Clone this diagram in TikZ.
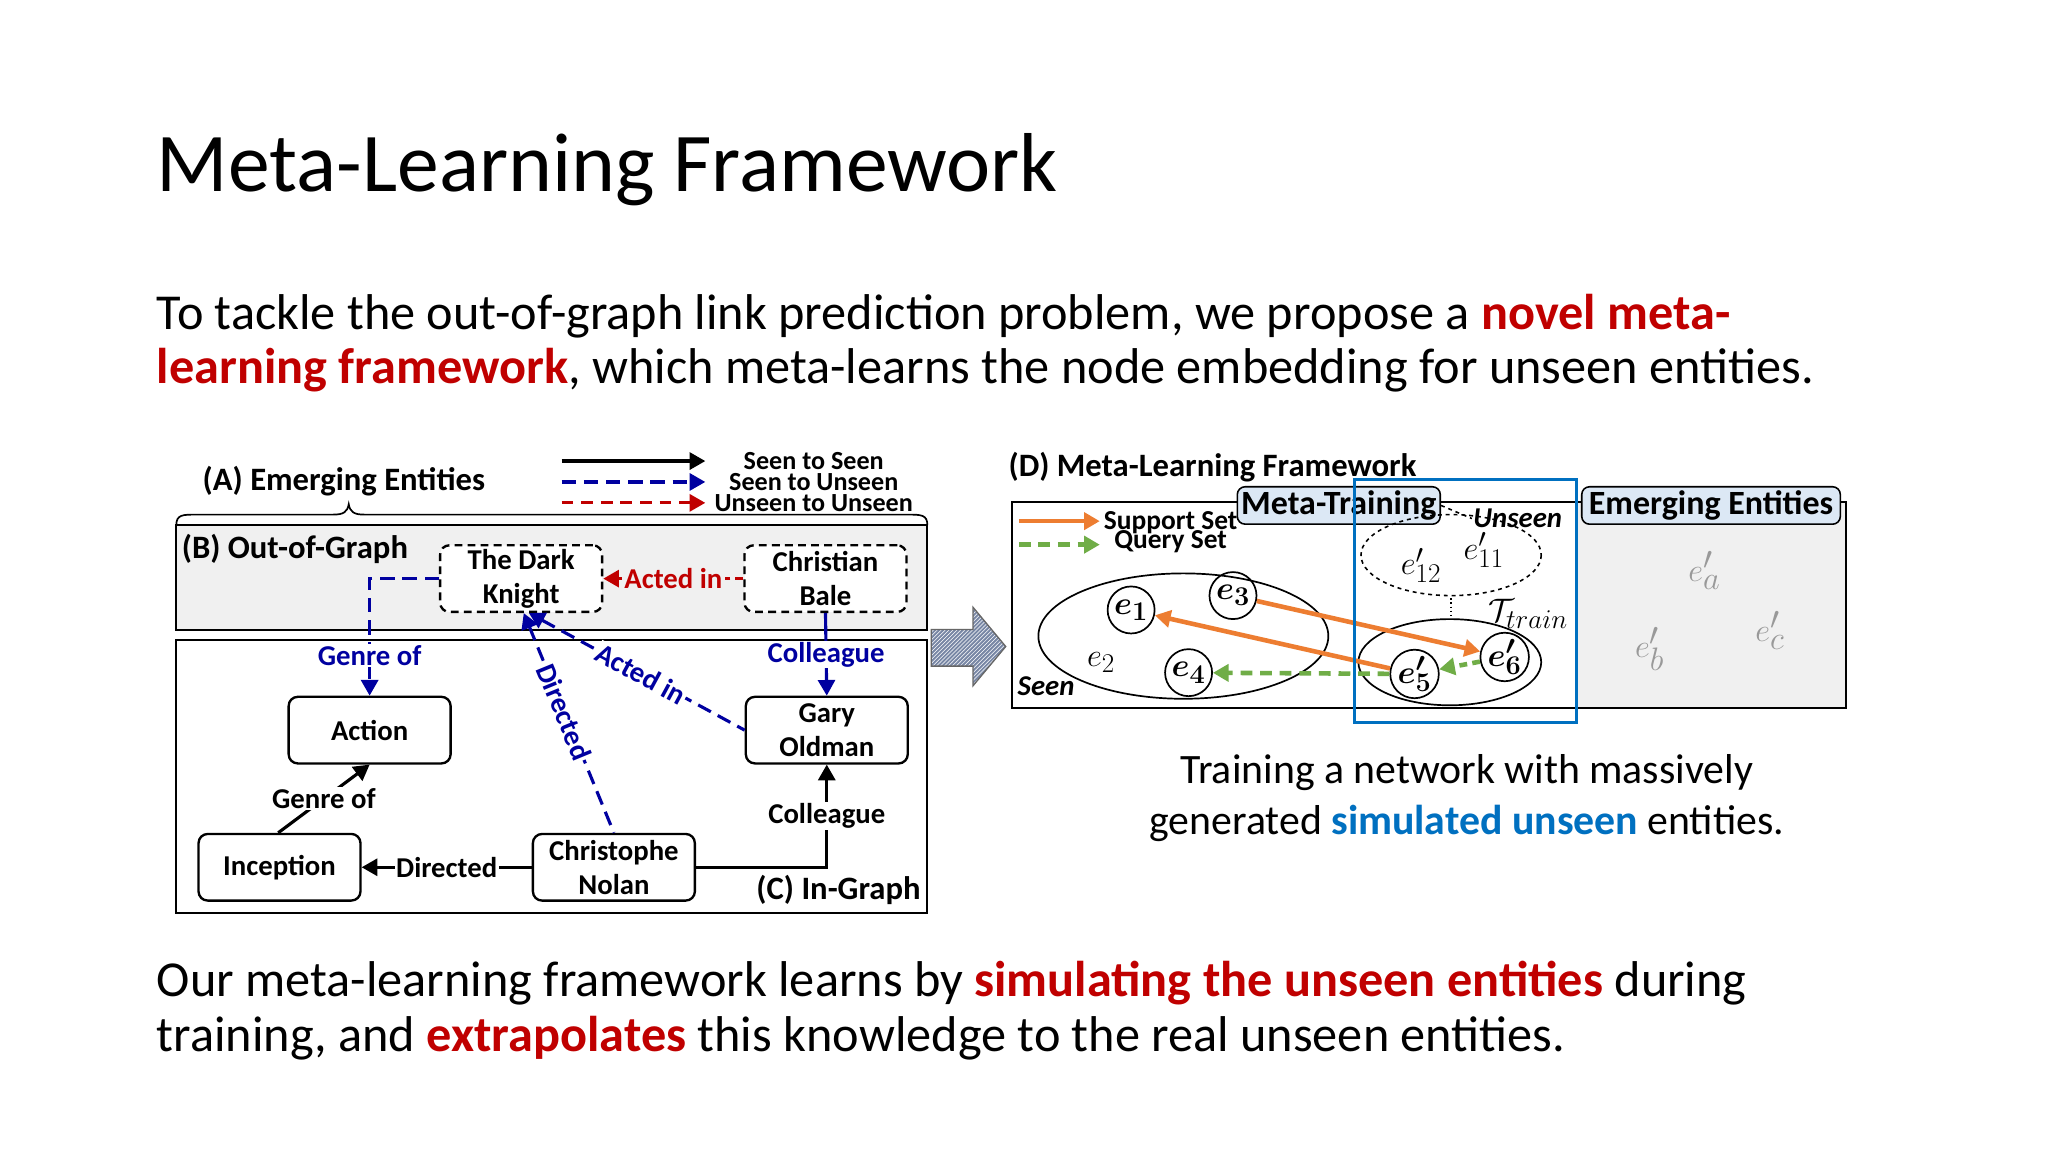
\documentclass[tikz,border=0pt]{standalone}
\usepackage{fontspec}
\usepackage{bm}
\setmainfont{Carlito}
\usetikzlibrary{arrows.meta,patterns}
\definecolor{myred}{RGB}{192,0,0}
\definecolor{dblue}{RGB}{0,0,160}
\definecolor{hblue}{RGB}{0,112,192}
\definecolor{orng}{RGB}{237,125,49}
\definecolor{grn}{RGB}{112,173,71}
\definecolor{lblue}{RGB}{220,232,245}
\begin{document}
\begin{tikzpicture}[x=1pt,y=-1pt,
  big/.style={font=\fontsize{38.5}{46}\selectfont, anchor=base west, inner sep=0},
  lab/.style={font=\bfseries\fontsize{25}{30}\selectfont, inner sep=1pt},
  ent/.style={draw, line width=1.8pt, rounded corners=7pt, minimum width=124pt, minimum height=51pt, align=center, font=\bfseries\fontsize{22}{26}\selectfont, inner sep=0},
  unent/.style={ent, dashed, dash pattern=on 6pt off 4pt},
  bl/.style={dblue, line width=2.4pt, dash pattern=on 11pt off 6pt},
  blt/.style={text=dblue, fill=white, font=\bfseries\fontsize{22}{26}\selectfont, inner sep=1pt},
  blk/.style={black, line width=2.4pt},
  tip/.style={-{Triangle[length=12pt,width=13pt]}},
  rtip/.style={{Triangle[length=12pt,width=13pt]}-},
  elab/.style={font=\bfseries\fontsize{22}{26}\selectfont, inner sep=1pt, fill=white},
  cir/.style={circle, draw, line width=1.3pt, minimum size=36pt, inner sep=0, font=\fontsize{31}{34}\selectfont},
  tag/.style={draw, rounded corners=6pt, fill=lblue, line width=1.2pt, minimum height=28pt, font=\bfseries\fontsize{26}{30}\selectfont, inner sep=3pt}
]
\useasboundingbox (0,0) rectangle (1568,882);
\fill[white] (0,0) rectangle (1568,882);

% title and text
\node[anchor=base west, inner sep=0, font=\fontsize{64}{76}\selectfont] (title) at (120,147) {Meta-Learning Framework};
\node[big] (t1) at (120,252) {To tackle the out-of-graph link prediction problem, we propose a \textcolor{myred}{\bfseries novel meta-}};
\node[big] (t2) at (120,294) {\textcolor{myred}{\bfseries learning framework}, which meta-learns the node embedding for unseen entities.};
\node[big] (b1) at (120,763) {Our meta-learning framework learns by \textcolor{myred}{\bfseries simulating the unseen entities} during};
\node[big] (b2) at (120,805) {training, and \textcolor{myred}{\bfseries extrapolates} this knowledge to the real unseen entities.};

% ---------- left panel ----------
\node[lab, anchor=west] (A) at (154,368) {(A) Emerging Entities};
\coordinate (l1a) at (430,353); \coordinate (l1b) at (540,353);
\coordinate (l2a) at (430,369); \coordinate (l2b) at (540,369);
\coordinate (l3a) at (430,385); \coordinate (l3b) at (540,385);
\draw[blk, tip] (l1a) -- (l1b);
\draw[bl, tip] (l2a) -- (l2b);
\draw[myred, line width=2.4pt, dash pattern=on 9pt off 6pt, tip] (l3a) -- (l3b);
\node[font=\bfseries\fontsize{20}{22}\selectfont, inner sep=0] (lg1) at (623,353) {Seen to Seen};
\node[font=\bfseries\fontsize{20}{22}\selectfont, inner sep=0] (lg2) at (623,369) {Seen to Unseen};
\node[font=\bfseries\fontsize{20}{22}\selectfont, inner sep=0] (lg3) at (623,385) {Unseen to Unseen};
\draw[line width=1.3pt] (135,402) .. controls (135,394) and (140,394) .. (150,394) -- (255,394) .. controls (263,394) and (266,392) .. (267,386)
  .. controls (268,392) and (271,394) .. (279,394) -- (695,394) .. controls (705,394) and (710,394) .. (710,402);

\draw[line width=1.6pt, fill=black!6] (135,402) rectangle (710,482);
\draw[line width=1.6pt] (135,490) rectangle (710,699);
\node[lab, anchor=west] (B) at (138,420) {(B) Out-of-Graph};
\node[lab, anchor=east] (C) at (706,681) {(C) In-Graph};

\node[unent, fill=white] (tdk) at (399,443) {The Dark\\Knight};
\node[unent, fill=white] (cb) at (632,443) {Christian\\Bale};
\node[ent] (act) at (283,559) {Action};
\node[ent] (go) at (633,559) {Gary\\Oldman};
\node[ent] (inc) at (214,664) {Inception};
\node[ent] (cn) at (470,664) {Christophe\\Nolan};

\draw[myred, line width=2.4pt, dash pattern=on 6pt off 4pt, tip] (cb.west) -- node[fill=black!6, text=myred, font=\bfseries\fontsize{22}{26}\selectfont, inner sep=2pt]{Acted in} (tdk.east);
\draw[bl, tip] (tdk.west) -| node[pos=0.83, blt]{Genre of} (act.north);
\draw[dblue, line width=2.4pt, tip] (cb.south) -- node[blt]{Colleague} (go.north);
\draw[bl, rtip] ([xshift=6pt]tdk.south) -- node[blt, sloped, pos=0.52]{Acted in} (go.west);
\draw[bl, rtip] ([xshift=2pt]tdk.south) -- node[blt, sloped, pos=0.45]{Directed} (cn.north);
\draw[blk, tip] ([xshift=-1pt]inc.north) -- node[elab, pos=0.5]{Genre of} (act.south);
\draw[blk, tip] (cn.west) -- node[elab]{Directed} (inc.east);
\draw[blk, tip] (cn.east) -| node[elab, pos=0.75]{Colleague} (go.south);

% hatched arrow
\path[fill={rgb,255:red,120;green,135;blue,165}] (713,482)--(745,482)--(745,465)--(770,495)--(745,525)--(745,510)--(713,510)--cycle;
\path[pattern=north east lines, pattern color=white] (713,482)--(745,482)--(745,465)--(770,495)--(745,525)--(745,510)--(713,510)--cycle;
\draw[line width=1pt, black!60] (713,482)--(745,482)--(745,465)--(770,495)--(745,525)--(745,510)--(713,510)--cycle;

% ---------- right panel ----------
\node[lab, anchor=west] (D) at (771,358) {(D) Meta-Learning Framework};
\fill[black!6] (1208,384) rectangle (1413,542);
\draw[line width=1.6pt] (775,384) rectangle (1413,542);
\node[tag] (mt) at (1025,387) {Meta-Training};
\node[tag, minimum width=198pt] (ee) at (1310,387) {Emerging Entities};

\coordinate (s1) at (780,399); \coordinate (s2) at (842,399);
\coordinate (q1) at (780,417); \coordinate (q2) at (842,417);
\draw[orng, line width=3.5pt, tip] (s1) -- (s2);
\draw[grn, line width=3.5pt, dash pattern=on 9pt off 6pt, tip] (q1) -- (q2);
\node[font=\bfseries\fontsize{21}{22}\selectfont, anchor=west, inner sep=0] (ss) at (845,400) {Support Set};
\node[font=\bfseries\fontsize{21}{22}\selectfont, anchor=west, inner sep=0] (qs) at (853,415) {Query Set};

\draw[line width=1.3pt] (906,487) ellipse [x radius=111, y radius=48];
\node[font=\bfseries\itshape\fontsize{22}{24}\selectfont, anchor=west, inner sep=0] (seen) at (779,525) {Seen};
\node[cir] (e1) at (866,467) {$\bm{e_1}$};
\node[cir] (e3) at (944,456) {$\bm{e_3}$};
\node[cir] (e4) at (910,515) {$\bm{e_4}$};
\node[font=\fontsize{30}{33}\selectfont] (e2) at (843,507) {$e_2$};

\draw[line width=1.2pt, dashed] (1111,425) ellipse [x radius=69, y radius=31];
\node[font=\bfseries\itshape\fontsize{22}{24}\selectfont, inner sep=1pt] (uns) at (1162,397) {Unseen};
\draw[line width=1.2pt, dashed] (mt.east) -- (uns.west);
\node[font=\fontsize{30}{33}\selectfont] (e12) at (1088,433) {$e'_{12}$};
\node[font=\fontsize{30}{33}\selectfont] (e11) at (1136,421) {$e'_{11}$};
\draw[line width=1.2pt, dotted] (1111,458) -- (1111,472);
\node[font=\fontsize{30}{33}\selectfont] (tt) at (1170,470) {$\mathcal{T}_{train}$};

\draw[line width=1.3pt] (1110,507) ellipse [x radius=70, y radius=33];
\node[cir] (e5) at (1083,516) {$\bm{e'_5}$};
\node[cir] (e6) at (1152,503) {$\bm{e'_6}$};

\draw[orng, line width=3.5pt, tip] (e3) -- (e6);
\draw[orng, line width=3.5pt, tip] (e5) -- (e1);
\draw[grn, line width=3.5pt, dash pattern=on 9pt off 6pt, tip] (e5) -- (e4);
\draw[grn, line width=3.5pt, dash pattern=on 6pt off 4pt, tip] (e6) -- (e5);

\node[font=\fontsize{33}{36}\selectfont, text=black!40] (ea) at (1305,437) {$e'_a$};
\node[font=\fontsize{33}{36}\selectfont, text=black!40] (eb) at (1263,497) {$e'_b$};
\node[font=\fontsize{33}{36}\selectfont, text=black!40] (ec) at (1355,483) {$e'_c$};

\draw[hblue, line width=2.5pt] (1037,367) rectangle (1207,553);

\node[font=\fontsize{32}{39}\selectfont, align=center] (cap) at (1123,611) {Training a network with massively\\generated \textcolor{hblue}{\bfseries simulated unseen} entities.};
\end{tikzpicture}
\end{document}
